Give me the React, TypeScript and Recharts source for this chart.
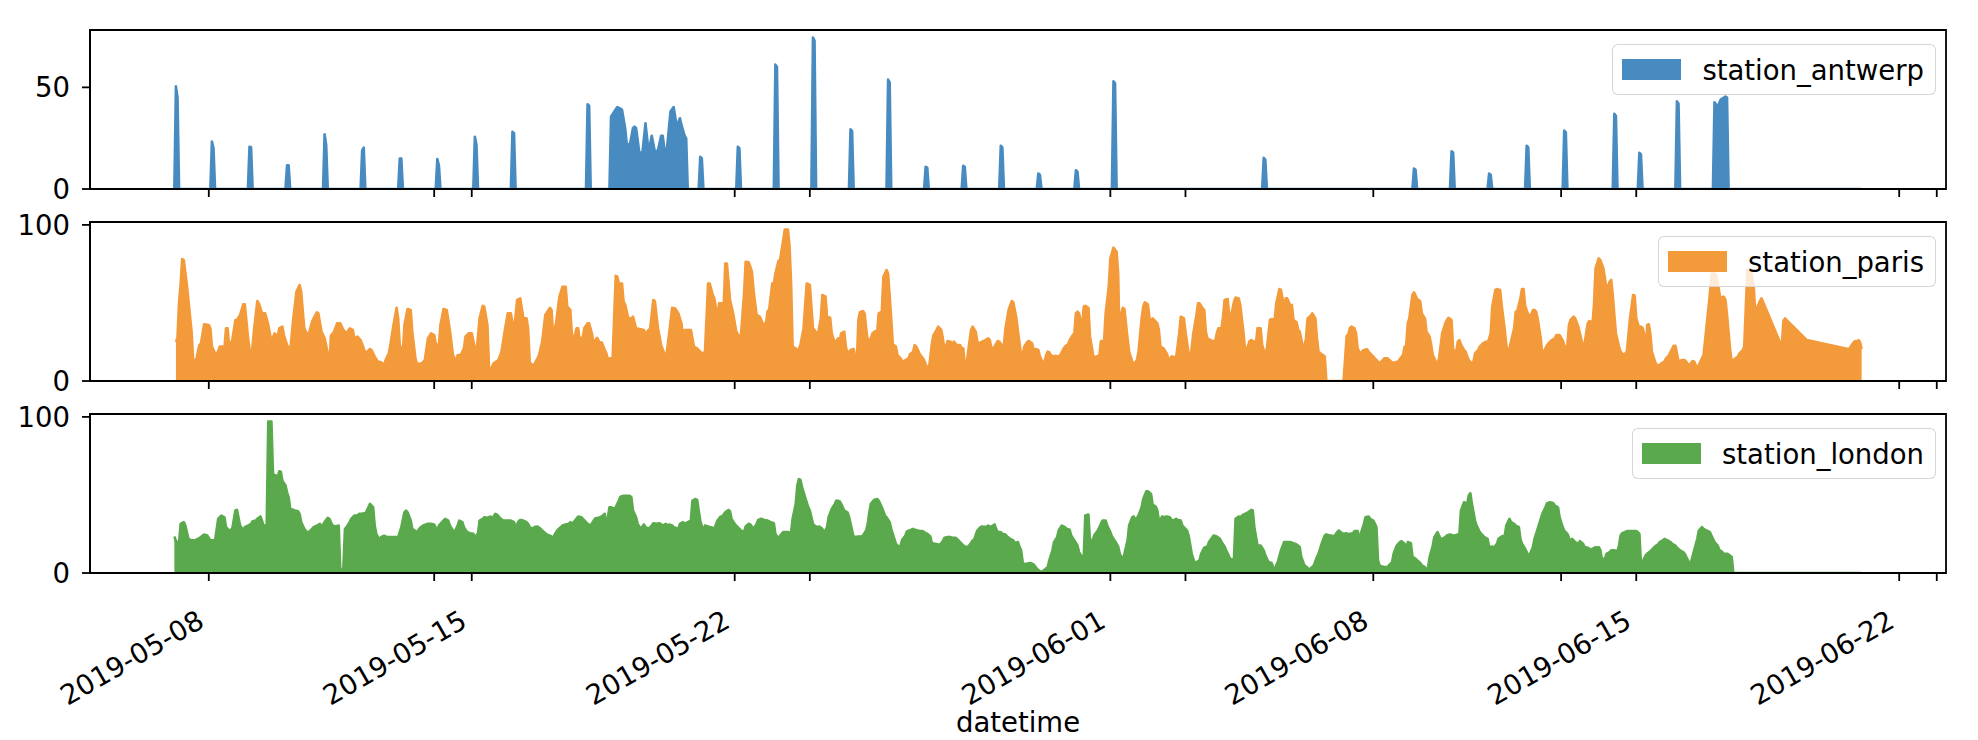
import React from "react";
import { AreaChart, Area, XAxis, YAxis, ReferenceArea, Legend } from "recharts";

// hours counted from 2019-05-07 00:00; each pair is [hour, NO2 value]
const antwerpPoints: [number, number][] = [
  [3, 50.5], [4, 45], [26, 23.3], [27, 20], [50, 20.8], [51, 20.5], [74, 11.7], [75, 11.7],
  [98, 26.9], [99, 21.6], [122, 19], [123, 20.3], [146, 15], [147, 15], [170, 14.7], [171, 11.7],
  [194, 25.7], [195, 21.6], [218, 28.2], [219, 27.5], [266, 41.7], [267, 41],
  [281, 35.6], [283, 38], [285, 40.3], [287, 39.5], [288, 39], [290, 29.9], [291, 22.4], [293, 21.6],
  [295, 29.9], [296, 30.7], [297, 29.9], [299, 18.3], [301, 17.5], [303, 32.3], [305, 18.3], [307, 26.2],
  [309, 18.3], [311, 19.1], [313, 26.2], [314, 26.2], [316, 14.2], [319, 38.1], [321, 40.3], [323, 30.7],
  [325, 34.8], [326, 31.5], [328, 26.2], [329, 24.9],
  [338, 15.8], [339, 15], [362, 20.8], [363, 20], [386, 61.2], [387, 60], [410, 74.5], [411, 73],
  [434, 29.4], [435, 28.5], [458, 53.8], [459, 52.5], [482, 10.9], [483, 10.5], [506, 11.4], [507, 10.8],
  [530, 21.3], [531, 20.5], [554, 7.6], [555, 7], [578, 9.2], [579, 8.5], [602, 53], [603, 52],
  [698, 15.3], [699, 14.5], [794, 10.1], [795, 9.5], [818, 18.6], [819, 18], [842, 7.6], [843, 7],
  [866, 21.3], [867, 20.5], [890, 28.7], [891, 28], [922, 37], [923, 36], [938, 17.8], [939, 17],
  [962, 43.1], [963, 42], [986, 42.7], [988, 40.5], [990, 44], [993, 45.5], [994, 45],
];

const parisPoints: [number, number][] = [
  [3, 25], [4, 27.7], [5, 50.4], [6, 61.9], [7, 78.1], [8, 77.5], [10, 61.5], [13, 31.6], [14, 13.4], [16, 13.4],
  [17, 18.8], [18, 23], [19, 24.1], [21, 36.3], [24, 35.9], [25, 33.7], [26, 22], [28, 17.7], [29, 16.6], [31, 22],
  [33, 22], [34, 20.9], [35, 33.7], [36, 33.7], [37, 22], [39, 26.2], [41, 39], [42, 39], [44, 42.3], [46, 49.1],
  [47, 49.1], [49, 28.4], [51, 12.4], [53, 33.7], [55, 51.2], [56, 49.7], [58, 43.3], [60, 43.3], [62, 35.9], [64, 25.2],
  [66, 30.5], [68, 28.4], [69, 33.7], [71, 34.8], [72, 29.4], [74, 23], [76, 19.2], [78, 40.1], [80, 57.2], [82, 61.5],
  [83, 57.2], [85, 33.7], [87, 29.4], [88, 30.5], [90, 38], [91, 40.1], [93, 44], [94, 43.3], [96, 31.6], [98, 27.3],
  [100, 17.7], [101, 7], [102, 29], [104, 31.6], [106, 36.9], [108, 36.9], [110, 32.7], [112, 30.5], [114, 33.7], [116, 32.7],
  [117, 27.3], [119, 28.4], [121, 26.2], [123, 20.9], [124, 17.7], [127, 20.5], [128, 19.8], [130, 15.6], [132, 12.4], [134, 12],
  [136, 10.2], [137, 13.4], [139, 17.7], [140, 23], [142, 35.9], [144, 46.9], [145, 40.1], [146, 23], [148, 18.8], [149, 35.9],
  [151, 46.1], [153, 45.5], [154, 31.6], [156, 14.5], [157, 10.9], [160, 11.3], [162, 13.4], [164, 27.3], [166, 30.5], [168, 29.4],
  [169, 24.1], [171, 22], [172, 35.9], [174, 46.1], [176, 45.5], [178, 32.7], [180, 16.6], [182, 12.4], [183, 16.6], [185, 16.6],
  [187, 20.9], [188, 28.4], [190, 30.5], [192, 30.5], [194, 20.9], [195, 17.7], [197, 40.1], [199, 48.2], [200, 47.6], [202, 35.9],
  [203, 9.2], [204, 4.9], [205, 9.2], [206, 11.3], [209, 13.4], [211, 18.8], [213, 31.6], [215, 43.3], [217, 43.3], [219, 31.6],
  [221, 51.9], [223, 52.9], [225, 40.1], [227, 40.1], [228, 33.7], [229, 12.4], [230, 10.2], [232, 10.7], [234, 14.5], [235, 16.6],
  [237, 25.2], [239, 42.3], [242, 46.9], [243, 45.5], [244, 28.4], [246, 38], [248, 54], [250, 60.4], [252, 60.4], [253, 47.6],
  [255, 45.5], [256, 29.4], [257, 26.2], [259, 33.7], [260, 33.7], [261, 26.2], [263, 28.4], [264, 34.1], [266, 36.9], [267, 36.9],
  [269, 29.4], [270, 20.9], [271, 26.2], [272, 27.7], [274, 24.1], [275, 24.8], [277, 19.8], [278, 17.7], [279, 13.4], [280, 14.5],
  [282, 14.5], [284, 67.4], [285, 66.8], [286, 62.5], [288, 62.5], [289, 50.8], [290, 49.1], [292, 40.1], [294, 40.1], [295, 41.2],
  [297, 33.7], [300, 33.1], [302, 32.7], [303, 28.4], [304, 31.6], [306, 33.7], [308, 51.9], [309, 51.2], [311, 33.7], [313, 23],
  [315, 17.7], [316, 13.4], [318, 29.4], [320, 46.9], [322, 46.5], [324, 43.3], [326, 36.9], [327, 28.4], [328, 32.7], [332, 32.7],
  [334, 22], [336, 20.9], [339, 17.7], [341, 18.4], [343, 62.5], [344, 62.5], [346, 55.1], [347, 52.9], [349, 40.1], [350, 49.7],
  [352, 49.7], [353, 48.7], [354, 75.3], [355, 75.3], [357, 51.9], [359, 43.3], [361, 31.6], [363, 28.4], [364, 29.4], [366, 56.1],
  [367, 76.4], [369, 76], [371, 70], [372, 58.3], [374, 42.3], [376, 41.2], [377, 39.1], [378, 36.3], [380, 36.9], [381, 44.8],
  [382, 45.5], [384, 62.5], [385, 61.9], [386, 68.9], [388, 77], [389, 77.5], [391, 90.3], [392, 97], [394, 97], [395, 87.1],
  [396, 63.6], [397, 22], [399, 20.9], [400, 18.4], [402, 23], [404, 33.7], [406, 62.5], [408, 61.5], [410, 33.7], [411, 32.7],
  [413, 29], [415, 40.1], [416, 55.1], [418, 54], [419, 41.2], [421, 40.5], [422, 30.5], [424, 24.1], [426, 27.3], [427, 25.2],
  [428, 30.5], [430, 31.6], [431, 22], [432, 17.7], [434, 19.8], [436, 20.5], [438, 10.2], [439, 39.1], [440, 44], [442, 44.8],
  [443, 43.3], [444, 33.7], [445, 25.6], [447, 27.3], [448, 30.5], [450, 32], [451, 30.5], [452, 43.3], [454, 44.4], [455, 66.8],
  [457, 71.1], [458, 68.9], [460, 40.1], [461, 23.5], [463, 22], [464, 16.6], [466, 14.5], [467, 12.4], [469, 13.4], [471, 14.5],
  [472, 17.1], [474, 18.8], [475, 23], [476, 22], [478, 17.7], [479, 16.2], [481, 13.4], [482, 10.7], [484, 7], [486, 24.1],
  [487, 29.4], [489, 32.7], [490, 34.8], [492, 32.7], [493, 27.3], [494, 19.2], [496, 25.6], [498, 25.2], [499, 23.5], [500, 25.2],
  [502, 23], [504, 23], [505, 20.9], [506, 20.9], [507, 10.2], [508, 10.2], [510, 25.2], [511, 32.7], [512, 34.8], [514, 31.6],
  [515, 25.2], [516, 24.1], [518, 25.2], [519, 25.6], [522, 27.3], [523, 26.2], [524, 20.9], [525, 20.9], [526, 22], [528, 25.6],
  [529, 25.2], [531, 22.6], [532, 23], [533, 33.7], [535, 45.5], [537, 51.2], [538, 50.4], [540, 40.1], [541, 31.6], [542, 24.1],
  [543, 16.6], [544, 16.6], [545, 22], [547, 25.2], [548, 25.6], [550, 24.1], [551, 19.8], [552, 20.5], [554, 19.8], [555, 15.6],
  [557, 11.3], [558, 12.8], [559, 16.6], [560, 18.8], [561, 18.4], [562, 16.6], [564, 15.6], [565, 16.2], [567, 15.6], [568, 16.6],
  [570, 20.5], [571, 22], [573, 23.5], [574, 26.2], [576, 29.4], [577, 30.5], [578, 43.3], [579, 44.4], [580, 43.3], [581, 39.1],
  [582, 34.8], [583, 47.6], [584, 48.2], [586, 46.9], [587, 28.4], [589, 16.6], [590, 14.9], [591, 15.6], [593, 16.6], [594, 25.6],
  [596, 25.6], [597, 43.3], [599, 60.4], [600, 78.5], [602, 85.4], [604, 82.8], [605, 68.9], [606, 16.6], [607, 43.3], [608, 46.9],
  [609, 46.1], [611, 27.3], [612, 18.8], [614, 12.4], [615, 11.3], [616, 12], [617, 13.4], [618, 18.8], [620, 40.1], [621, 47.6],
  [622, 50.4], [624, 49.1], [625, 40.1], [626, 39.1], [627, 40.1], [628, 39.1], [630, 36.9], [631, 32.7], [632, 22], [634, 20.9],
  [636, 17.7], [637, 14.5], [638, 13.4], [639, 15.6], [640, 15.6], [642, 14.9], [644, 30.5], [645, 41.2], [647, 40.1], [648, 31.6],
  [650, 17.7], [651, 12.4], [653, 30.5], [655, 42.3], [656, 49.7], [657, 49.7], [659, 46.5], [660, 45.5], [661, 31.6], [662, 27.3],
  [664, 26.2], [665, 25.6], [667, 25.6], [668, 30.5], [669, 33.7], [671, 33.7], [672, 41.2], [673, 51.9], [675, 52.5], [676, 41.2],
  [677, 41.2], [679, 50.8], [680, 53.4], [682, 52.9], [683, 48.7], [685, 31.6], [686, 20.9], [687, 19.8], [689, 25.6], [690, 26.2],
  [692, 25.2], [693, 24.1], [694, 33.7], [696, 33.7], [697, 23], [699, 16.6], [700, 20.9], [702, 39.1], [703, 39.7], [705, 39.1],
  [706, 49.7], [708, 58.9], [709, 58.3], [711, 47.6], [712, 52.9], [713, 52.9], [715, 48.2], [716, 48.7], [717, 39.1], [719, 37.6],
  [720, 32.7], [721, 31.6], [723, 22], [724, 22], [725, 27.3], [726, 40.1], [728, 41.8], [729, 43.3], [731, 40.1], [732, 27.3],
  [733, 18.8], [735, 17.1], [736, 16.6], [737, 15.6], [738, 0], [749, 0], [751, 29], [752, 29.4], [753, 33.7], [754, 34.8],
  [756, 33.7], [757, 30.5], [758, 20.9], [760, 16.6], [761, 19.2], [762, 19.8], [764, 20.3], [765, 18.8], [766, 17.7], [768, 15.6],
  [769, 14.5], [771, 12.4], [772, 10.2], [773, 12.4], [774, 13.4], [775, 14.5], [777, 14.5], [779, 12.8], [780, 11.7], [782, 12],
  [784, 12.4], [785, 14.1], [787, 16.6], [788, 22], [789, 22.4], [790, 36.9], [791, 40.1], [793, 55.1], [794, 56.8], [796, 52.5],
  [797, 52], [798, 50.8], [799, 43.3], [801, 40.1], [802, 31.6], [804, 28.4], [805, 23], [806, 16.6], [807, 14.5], [809, 10.2],
  [810, 14.5], [812, 30.5], [813, 33.7], [814, 36.9], [815, 39.1], [816, 40.5], [818, 39.1], [819, 20], [821, 18.8], [822, 25.2],
  [823, 26.2], [824, 23.5], [826, 19.8], [827, 18.8], [828, 15.6], [829, 13.4], [831, 11.3], [832, 12.4], [833, 17.7], [835, 19.8],
  [836, 22], [837, 23], [838, 24.1], [840, 25.2], [841, 24.1], [843, 30.5], [844, 47.6], [846, 58.3], [847, 58.9], [849, 58.3],
  [850, 48.7], [852, 32.7], [853, 23], [854, 16.6], [855, 20.9], [856, 25.2], [858, 33.7], [859, 44.4], [860, 44.8], [862, 52.9],
  [863, 58.9], [864, 58.9], [865, 48.2], [867, 42.3], [869, 42.5], [870, 45.5], [871, 45.5], [872, 44.4], [873, 40.1], [875, 27.3],
  [876, 16.6], [878, 20.9], [879, 23], [881, 25.2], [882, 26.2], [884, 27.3], [885, 29.4], [887, 29.4], [888, 27.7], [889, 26.2],
  [891, 19.8], [892, 23], [893, 35.9], [894, 39.1], [896, 41.2], [897, 40.1], [899, 34.8], [901, 26.2], [902, 22], [903, 24.1],
  [904, 30.5], [905, 36.9], [906, 38.4], [907, 38], [908, 35.9], [909, 48.7], [910, 72.1], [912, 78.5], [913, 77.5], [915, 72.1],
  [916, 65.7], [917, 58.3], [919, 63.6], [920, 64.7], [921, 55.1], [922, 42.3], [923, 30.5], [924, 26.2], [925, 22], [926, 18.8],
  [927, 17.7], [928, 16.6], [930, 18.8], [932, 40.1], [934, 55.1], [935, 54.6], [936, 40.1], [938, 33.7], [939, 34.8], [940, 34.1],
  [941, 30.5], [942, 10.2], [943, 35.9], [944, 36.3], [945, 30.5], [946, 18.8], [948, 12.4], [949, 10.2], [951, 10.2], [952, 11.3],
  [954, 12.4], [955, 14.5], [957, 16.6], [958, 18.8], [960, 22.6], [961, 22.6], [962, 17.7], [963, 12.4], [965, 13.4], [967, 13.4],
  [968, 12.4], [969, 10.7], [970, 10.2], [972, 12.8], [973, 12.4], [974, 10.2], [975, 9.2], [976, 10.2], [977, 12.4], [979, 16.6],
  [981, 35.9], [983, 55.1], [984, 67.9], [985, 69.6], [987, 67.9], [988, 63.6], [990, 50.8], [991, 54], [992, 54], [993, 51.9],
  [994, 42.3], [996, 19.8], [997, 12.4], [998, 13.4], [1001, 15.6], [1002, 17.7], [1004, 19.8], [1005, 22], [1006, 47.6], [1007, 71.1],
  [1009, 71.7], [1011, 61.5], [1012, 44.4], [1013, 46.5], [1015, 51.2], [1016, 52.9], [1017, 50.8], [1029, 22], [1030, 38.4], [1031, 40.1],
  [1045, 26.2], [1072, 20.3], [1074, 23.5], [1075, 24.8], [1076, 25.6], [1077, 25.2], [1078, 26.2], [1079, 24.8], [1080, 20.5],
];

const londonPoints: [number, number][] = [
  [2, 23.4], [3, 20.4], [5, 19.1], [6, 31.5], [8, 32.6], [9, 30.4], [11, 21.9], [13, 20.9], [15, 20.9], [17, 21.9],
  [19, 23], [21, 24.7], [23, 24], [25, 20.9], [28, 20.9], [30, 34.7], [32, 36.8], [34, 35.7], [35, 29.4], [37, 27.2],
  [39, 28.3], [41, 40], [42, 40.4], [44, 30.4], [46, 27.2], [47, 29.4], [49, 30.4], [51, 31.5], [52, 33.2], [54, 33.6],
  [55, 34.7], [57, 36.2], [59, 30.4], [61, 30.4], [62, 97], [64, 97], [65, 63.4], [67, 62.3], [68, 61.3], [69, 65.1],
  [70, 64.9], [71, 59.1], [73, 56], [74, 51.7], [75, 48.5], [76, 41.1], [79, 40], [81, 39.6], [82, 37.9], [83, 32.6],
  [85, 28.3], [87, 25.7], [89, 27.2], [91, 29.4], [93, 30.4], [95, 31.5], [96, 29.4], [98, 32.6], [100, 35.3], [101, 34.7],
  [103, 30.4], [105, 29.8], [107, 30.4], [108, 1.7], [109, 0], [110, 3.8], [111, 28.3], [112, 29.4], [114, 32.6], [115, 34.7],
  [117, 36.8], [119, 36.8], [120, 37.9], [122, 37.9], [123, 38.3], [124, 37.9], [126, 42.1], [127, 44.3], [129, 42.1], [130, 30.4],
  [131, 25.1], [133, 21.3], [134, 23], [136, 23.9], [138, 23], [145, 23], [147, 29.4], [149, 38.9], [150, 40], [151, 38.9],
  [153, 33.6], [154, 28.3], [156, 26.8], [157, 26.2], [159, 28.9], [161, 30.4], [164, 31.5], [166, 31.5], [168, 31.1], [170, 26.8],
  [171, 30.4], [173, 32.6], [175, 34.7], [177, 33.6], [178, 30.4], [180, 27.2], [181, 26.2], [183, 30.4], [184, 33.6], [186, 32.6],
  [187, 29.4], [189, 26.2], [191, 25.5], [193, 25.1], [194, 22.6], [196, 25.5], [197, 33.6], [199, 34.7], [200, 35.7], [202, 35.3],
  [204, 36.2], [205, 34.7], [207, 37.9], [208, 37.5], [210, 35.3], [212, 33.6], [217, 33.6], [219, 32.6], [220, 28.9], [222, 33.2],
  [223, 34], [225, 33.6], [227, 32.6], [228, 31.5], [229, 29.4], [231, 28.3], [232, 29.4], [234, 29.8], [236, 28.3], [237, 27.2],
  [239, 25.5], [240, 24.7], [243, 23.4], [244, 21.9], [245, 24.7], [247, 27.7], [249, 29.4], [250, 30.4], [252, 31.1], [254, 31.5],
  [255, 32.6], [256, 31.5], [258, 33.6], [260, 36.2], [262, 35.7], [263, 34.7], [265, 32.6], [266, 31.5], [268, 30.4], [270, 33.6],
  [271, 35.1], [273, 35.3], [275, 36.2], [277, 37.9], [278, 29.4], [280, 42.1], [281, 42.1], [283, 41.1], [284, 42.1], [286, 46.4],
  [287, 48.9], [289, 49.4], [293, 49.4], [294, 48.5], [295, 40], [297, 35.7], [298, 31.5], [300, 28.3], [302, 31.1], [303, 29.4],
  [305, 28.3], [307, 30.4], [308, 31.9], [310, 31.5], [312, 31.9], [314, 30.4], [316, 31.5], [317, 30.4], [318, 31.1], [320, 30.4],
  [321, 29.4], [324, 28.3], [325, 31.5], [327, 32.6], [328, 31.5], [330, 32.6], [332, 33.6], [333, 46.4], [335, 47.4], [336, 46.8],
  [337, 40], [338, 33.6], [340, 26.2], [341, 30.4], [343, 29.8], [344, 29.4], [346, 28.9], [347, 28.3], [349, 33.6], [351, 36.2],
  [352, 36.2], [354, 38.9], [356, 40.4], [357, 39.6], [358, 34.7], [360, 31.5], [361, 30.4], [363, 28.3], [364, 27.2], [366, 26.2],
  [367, 29.8], [369, 31.5], [370, 31.1], [372, 28.3], [374, 31.5], [375, 34], [377, 34.7], [379, 34], [381, 33.6], [383, 32.6],
  [385, 31.9], [386, 25.1], [388, 21.9], [389, 24], [391, 26.2], [394, 26.2], [396, 25.5], [397, 34.7], [399, 44.3], [400, 56],
  [401, 60.2], [402, 59.6], [403, 55], [405, 48.5], [407, 42.1], [408, 40], [410, 31.5], [411, 30.4], [413, 29.4], [414, 29.8],
  [416, 28.3], [417, 25.5], [419, 29.4], [420, 35.7], [422, 41.1], [424, 44.3], [425, 46.4], [427, 46], [428, 44.3], [430, 40],
  [432, 38.9], [433, 36.2], [435, 27.2], [436, 23], [439, 23.4], [441, 23.4], [442, 24], [444, 27.2], [445, 31.5], [446, 38.9],
  [447, 44.3], [449, 46.8], [451, 47.4], [452, 46.4], [454, 42.1], [456, 36.8], [457, 35.7], [459, 32.6], [460, 28.3], [462, 21.9],
  [463, 18.7], [465, 16.6], [466, 17.7], [467, 21.3], [469, 23.9], [470, 26.6], [472, 27.4], [474, 28.3], [475, 27.7], [477, 27.2],
  [479, 26.8], [480, 26.8], [482, 25.5], [483, 25.1], [485, 23.4], [486, 19.1], [488, 18.7], [490, 18.3], [491, 18.1], [493, 20.4],
  [494, 22.6], [496, 23], [498, 23], [499, 22.6], [501, 22.6], [502, 21.9], [504, 19.8], [506, 17.7], [507, 17], [509, 16.6],
  [511, 19.1], [512, 20.9], [513, 21.3], [515, 27.2], [517, 29.4], [518, 29.8], [520, 29.4], [522, 30.4], [523, 29.4], [525, 30.4],
  [526, 31.1], [527, 28.3], [528, 26.2], [530, 26.2], [531, 25.1], [533, 24.7], [534, 23.4], [536, 21.9], [538, 20.9], [539, 19.1],
  [541, 19.8], [542, 16.6], [543, 14.5], [544, 7], [545, 5.5], [547, 6], [549, 6.4], [551, 5.5], [553, 2.8], [555, 1.1],
  [556, 0.6], [558, 2.1], [560, 3.8], [561, 8.1], [563, 14.5], [564, 19.8], [566, 23], [567, 27.2], [569, 30.4], [571, 29.4],
  [572, 28.3], [574, 27.7], [575, 24], [577, 20.9], [579, 17.6], [580, 13.4], [582, 10.2], [583, 10.2], [584, 36.8], [586, 37.4],
  [587, 19.8], [589, 21.9], [590, 24.7], [592, 27.2], [594, 31.5], [595, 33.6], [597, 33.6], [598, 30.4], [600, 26.2], [601, 23.4],
  [603, 20.4], [605, 17], [606, 12.3], [608, 8.5], [609, 12.3], [611, 20.9], [612, 30.4], [614, 35.7], [615, 36.2], [616, 33.6],
  [618, 36.8], [620, 42.1], [621, 47.4], [623, 52.3], [624, 52.3], [626, 50.6], [627, 43.8], [629, 42.6], [630, 40], [631, 33.6],
  [632, 33.6], [633, 36.2], [634, 35.7], [636, 36.2], [638, 35.7], [639, 34], [640, 33.6], [642, 34.7], [643, 34], [645, 33.6],
  [646, 30.4], [648, 28.3], [649, 27.2], [650, 24], [652, 12.3], [654, 6], [655, 7], [657, 8.1], [658, 12.3], [660, 16.2],
  [662, 17], [663, 19.8], [665, 22.6], [666, 24], [668, 23.4], [670, 21.9], [671, 19.8], [673, 17], [674, 14.5], [676, 10.2],
  [677, 8.5], [679, 9.1], [680, 34.7], [682, 36.2], [683, 35.7], [685, 37.4], [687, 38.3], [688, 38.9], [690, 40.4], [691, 40],
  [692, 29.4], [694, 17.6], [696, 17.6], [698, 14.5], [699, 11.3], [701, 7], [703, 6.4], [704, 3.8], [705, 1.7], [706, 4.9],
  [707, 7], [709, 14.5], [711, 19.8], [715, 19.8], [717, 19.1], [719, 18.3], [721, 16.6], [722, 10.2], [724, 4.9], [726, 3.4],
  [727, 2.1], [729, 3.8], [730, 4.9], [732, 10.2], [733, 12.3], [735, 18.7], [737, 24], [738, 24.7], [740, 24], [741, 24],
  [743, 23.4], [745, 26.2], [746, 27.2], [748, 25.5], [749, 25.1], [751, 25.5], [752, 24.7], [753, 25.1], [755, 25.5], [756, 26.8],
  [758, 26.8], [759, 21.9], [761, 28.3], [762, 31.5], [763, 35.7], [765, 36.2], [766, 34.7], [768, 33.6], [770, 29.4], [771, 8.1],
  [772, 4.9], [773, 4.3], [775, 3.8], [777, 3.8], [778, 4.9], [780, 7], [781, 12.3], [783, 17.6], [785, 19.8], [786, 20.4],
  [788, 18.7], [789, 13.4], [790, 19.8], [792, 19.1], [793, 10.6], [795, 9.1], [796, 8.1], [798, 6.4], [799, 4.9], [801, 3.8],
  [802, 0.6], [803, 3.8], [804, 10.2], [806, 17.6], [807, 23], [809, 26.2], [811, 21.9], [812, 21.9], [814, 23], [815, 24],
  [817, 24.7], [819, 24], [820, 24], [822, 24.7], [823, 25.1], [824, 40], [826, 45.3], [828, 44.3], [829, 49.6], [830, 51.1],
  [831, 44.3], [833, 33.6], [834, 30.4], [836, 26.2], [837, 25.1], [839, 23], [841, 21.9], [842, 16.6], [844, 17], [845, 16.2],
  [847, 18.7], [848, 21.9], [850, 23.4], [852, 24], [853, 30.4], [855, 34.7], [856, 32.6], [858, 31.5], [859, 30.4], [861, 29.4],
  [862, 21.9], [863, 18.7], [865, 15.5], [867, 11.3], [868, 11.9], [870, 16.6], [871, 21.9], [873, 28.3], [875, 34.7], [876, 37.9],
  [878, 42.1], [879, 44.7], [881, 45.3], [883, 44.7], [884, 43.2], [886, 42.1], [887, 35.7], [889, 29.4], [890, 27.2], [892, 25.1],
  [894, 19.8], [895, 21.9], [897, 19.8], [899, 18.7], [900, 20.4], [902, 18.7], [903, 16.6], [905, 16.2], [907, 14.9], [908, 15.5],
  [910, 16.6], [911, 16.2], [912, 16.6], [913, 14.9], [914, 9.1], [916, 9.1], [917, 12.3], [919, 13.4], [920, 14.5], [922, 14.5],
  [924, 14], [925, 17.6], [926, 24], [927, 25.5], [929, 26.2], [930, 26.8], [936, 26.8], [937, 26.2], [938, 25.1], [939, 6],
  [940, 7], [942, 11.3], [943, 12.3], [945, 14], [946, 14.9], [948, 17], [950, 18.3], [951, 19.8], [953, 20.9], [954, 21.9],
  [956, 20.9], [958, 19.8], [959, 18.7], [961, 17.6], [962, 16.2], [964, 14.5], [966, 13.4], [967, 12.3], [968, 10.2], [970, 6],
  [971, 7], [973, 14.5], [975, 21.9], [976, 27.2], [978, 29.4], [979, 28.3], [981, 27.2], [983, 26.2], [984, 24], [986, 19.8],
  [988, 17.6], [989, 14.9], [991, 13.4], [992, 12.3], [994, 12.3], [995, 11.9], [997, 10.2], [998, 0], [1080, 0],
];

const seriesNames = ["station_antwerp", "station_paris", "station_london"];
const seriesColors = ["#488bc0", "#f39a3b", "#5aa94c"];
const yMaxValues = [74.5, 97, 97];
const yTicks = [[0, 50], [0, 100], [0, 100]];

const labelTicks = [24, 192, 360, 600, 768, 936, 1104];
const tickLabels = ["2019-05-08", "2019-05-15", "2019-05-22", "2019-06-01", "2019-06-08", "2019-06-15", "2019-06-22"];
const extraTicks = [168, 408, 648, 888, 1128];

const FIRST_HOUR = 2;
const LAST_HOUR = 1080;
const PAD = (LAST_HOUR - FIRST_HOUR) * 0.05;
const X_DOMAIN: [number, number] = [FIRST_HOUR - PAD, LAST_HOUR + PAD];
const ALL_TICKS = [...labelTicks, ...extraTicks].sort((a, b) => a - b);

const FONT = "DejaVu Sans";
const FS = 27.5;
const TOP_GAP = 24;
const PLOT_H = 159;

// hours missing from a station count as 0, as in the pandas area plot
function withZeros(points: [number, number][]) {
  const rows = [{ h: FIRST_HOUR, v: 0 }];
  let prev = FIRST_HOUR;
  for (const [h, v] of points) {
    if (h - prev > 3) {
      rows.push({ h: prev + 1, v: 0 });
      rows.push({ h: h - 1, v: 0 });
    }
    rows.push({ h, v });
    prev = h;
  }
  if (LAST_HOUR - prev > 1) {
    rows.push({ h: prev + 1, v: 0 });
    rows.push({ h: LAST_HOUR, v: 0 });
  }
  return rows;
}

const toRows = (points: [number, number][]) => points.map(([h, v]) => ({ h, v }));

const chartData = [withZeros(antwerpPoints), toRows(parisPoints), toRows(londonPoints)];

function DateTick(props: any) {
  const { x, y, payload, showLabel } = props;
  const i = labelTicks.indexOf(payload.value);
  if (!showLabel || i < 0) return <g />;
  const ex = x - 3;
  const ey = y + 43;
  return (
    <text x={ex} y={ey} textAnchor="end" fontSize={FS} fontFamily={FONT} fill="#000"
      transform={`rotate(-30, ${ex}, ${ey})`}>
      {tickLabels[i]}
    </text>
  );
}

function LegendBox({ name, color }: { name: string; color: string }) {
  return (
    <div style={{
      display: "flex", alignItems: "center", height: 49, padding: "0 11px 0 9px",
      background: "rgba(255,255,255,0.8)", border: "1.5px solid rgba(204,204,204,0.8)",
      borderRadius: 6, fontFamily: FONT, fontSize: FS, color: "#000", whiteSpace: "nowrap",
    }}>
      <span style={{ display: "inline-block", width: 59, height: 21.5, background: color, marginRight: 21.5 }} />
      <span>{name}</span>
    </div>
  );
}

function Panel({ idx }: { idx: number }) {
  const bottom = idx === 2;
  const plotTop = [30, 222, 414][idx];
  const height = bottom ? 740 - plotTop + TOP_GAP : PLOT_H + TOP_GAP + 31;
  const yMax = yMaxValues[idx] * 1.05;
  const color = seriesColors[idx];
  return (
    <div style={{ position: "absolute", left: 0, top: plotTop - TOP_GAP }}>
      <AreaChart width={1978} height={height} data={chartData[idx]}
        margin={{ top: TOP_GAP, right: 32, left: 0, bottom: 0 }}>
        <XAxis type="number" dataKey="h" domain={X_DOMAIN} allowDataOverflow ticks={ALL_TICKS}
          interval={0} height={height - TOP_GAP - PLOT_H} tickSize={8}
          axisLine={{ stroke: "#000", strokeWidth: 1.8 }} tickLine={{ stroke: "#000", strokeWidth: 1.8 }}
          tick={<DateTick showLabel={bottom} />}
          label={bottom ? { value: "datetime", position: "insideBottom", offset: 8, fontSize: FS, fontFamily: FONT, fill: "#000" } : undefined} />
        <YAxis type="number" domain={[0, yMax]} allowDataOverflow ticks={yTicks[idx]} width={90}
          tickSize={8} tickMargin={12} interval={0}
          axisLine={{ stroke: "#000", strokeWidth: 1.8 }} tickLine={{ stroke: "#000", strokeWidth: 1.8 }}
          tick={{ fontSize: FS, fontFamily: FONT, fill: "#000" }} />
        <Area type="linear" dataKey="v" stroke={color} strokeWidth={2.6} strokeLinejoin="round"
          fill={color} fillOpacity={1} dot={false} activeDot={false} isAnimationActive={false} />
        <ReferenceArea x1={X_DOMAIN[0]} x2={X_DOMAIN[1]} y1={0} y2={yMax} fill="none" fillOpacity={0}
          stroke="#000" strokeWidth={1.8} />
        <Legend layout="horizontal" verticalAlign="middle" align="center"
          wrapperStyle={{ top: TOP_GAP + 14, left: "auto", right: 42, width: "auto" }}
          content={() => <LegendBox name={seriesNames[idx]} color={color} />} />
      </AreaChart>
    </div>
  );
}

export default function App() {
  return (
    <div style={{ position: "fixed", left: 0, top: 0, width: 1978, height: 740, background: "#fff", overflow: "hidden" }}>
      <Panel idx={0} />
      <Panel idx={1} />
      <Panel idx={2} />
    </div>
  );
}
